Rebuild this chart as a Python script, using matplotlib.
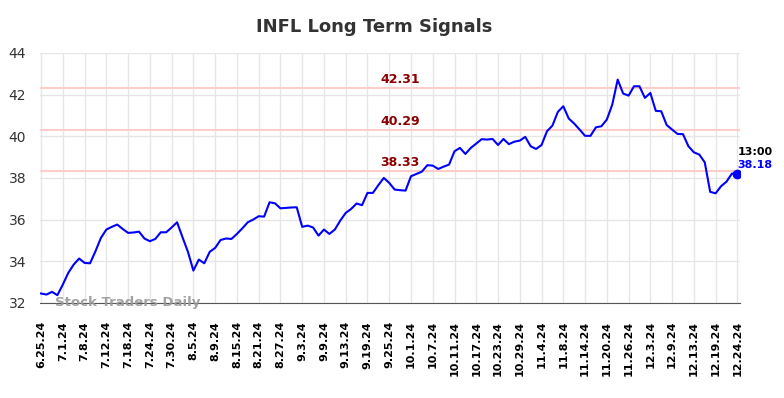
import numpy as np
import matplotlib
matplotlib.use("Agg")
import matplotlib.pyplot as plt

# tick labels, one every 4 trading days
dates = ["6.25.24", "7.1.24", "7.8.24", "7.12.24", "7.18.24", "7.24.24", "7.30.24",
         "8.5.24", "8.9.24", "8.15.24", "8.21.24", "8.27.24", "9.3.24", "9.9.24",
         "9.13.24", "9.19.24", "9.25.24", "10.1.24", "10.7.24", "10.11.24", "10.17.24",
         "10.23.24", "10.29.24", "11.4.24", "11.8.24", "11.14.24", "11.20.24",
         "11.26.24", "12.3.24", "12.9.24", "12.13.24", "12.19.24", "12.24.24"]

prices = [32.45, 32.40, 32.53, 32.37, 32.88, 33.44, 33.84, 34.13, 33.92, 33.90,
          34.48, 35.12, 35.52, 35.65, 35.76, 35.55, 35.36, 35.38, 35.42, 35.09,
          34.96, 35.07, 35.39, 35.39, 35.62, 35.87, 35.15, 34.45, 33.55, 34.08,
          33.90, 34.45, 34.64, 35.02, 35.09, 35.07, 35.31, 35.58, 35.87, 36.00,
          36.16, 36.14, 36.83, 36.78, 36.54, 36.56, 36.58, 36.59, 35.65, 35.71,
          35.62, 35.23, 35.52, 35.31, 35.52, 35.95, 36.32, 36.51, 36.77, 36.69,
          37.28, 37.28, 37.65, 38.00, 37.76, 37.44, 37.41, 37.39, 38.08, 38.19,
          38.30, 38.61, 38.59, 38.43, 38.54, 38.64, 39.28, 39.44, 39.15, 39.44,
          39.65, 39.86, 39.84, 39.87, 39.58, 39.87, 39.62, 39.74, 39.79, 39.97,
          39.52, 39.39, 39.58, 40.24, 40.51, 41.17, 41.44, 40.85, 40.61, 40.32,
          40.02, 40.02, 40.43, 40.48, 40.80, 41.52, 42.72, 42.05, 41.95, 42.40,
          42.40, 41.84, 42.08, 41.22, 41.20, 40.54, 40.32, 40.11, 40.10, 39.52,
          39.23, 39.12, 38.75, 37.33, 37.26, 37.60, 37.82, 38.21, 38.18]

levels = [42.31, 40.29, 38.33]

fig = plt.figure(figsize=(7.84, 3.98), dpi=100)
ax = fig.add_axes([0.051, 0.239, 0.893, 0.628])

x = np.arange(len(prices))
ax.plot(x, prices, color="#0000ff", lw=1.5, zorder=3)
ax.plot(x[-1], prices[-1], "o", color="#0000ff", ms=6, zorder=4)

for lv in levels:
    ax.axhline(lv, color="#ffcccc", lw=1.5, zorder=2)
    ax.text(66, lv + 0.12, f"{lv:.2f}", color="#8b0000", fontsize=9,
            fontweight="bold", ha="center", va="bottom")

ax.text(x[-1], prices[-1] + 0.8, "13:00", color="black", fontsize=8,
        fontweight="bold", ha="left", va="bottom")
ax.text(x[-1], prices[-1] + 0.2, f"{prices[-1]:.2f}", color="#0000ff", fontsize=8,
        fontweight="bold", ha="left", va="bottom")

ax.text(2.5, 32.0, "Stock Traders Daily", color="#999999", fontsize=9.5,
        fontweight="bold", ha="left", va="center", alpha=0.9)

ax.set_xlim(-0.2, 128.5)
ax.set_ylim(32, 44)
ax.set_xticks(x[::4])
ax.set_xticklabels(dates, rotation=90, fontsize=8, fontweight="bold")
ax.set_yticks(range(32, 45, 2))
ax.tick_params(axis="y", labelsize=10, colors="#333333", length=0, pad=10)
ax.tick_params(axis="x", length=0, pad=13)
ax.grid(True, color="#e6e6e6", lw=1)
ax.set_axisbelow(True)
for s in ["top", "right", "left"]:
    ax.spines[s].set_visible(False)
ax.spines["bottom"].set_color("#555555")

fig.suptitle("INFL Long Term Signals", x=0.477, y=0.955, fontsize=13,
             fontweight="bold", color="#333333")

fig.savefig("out.png", dpi=100)
